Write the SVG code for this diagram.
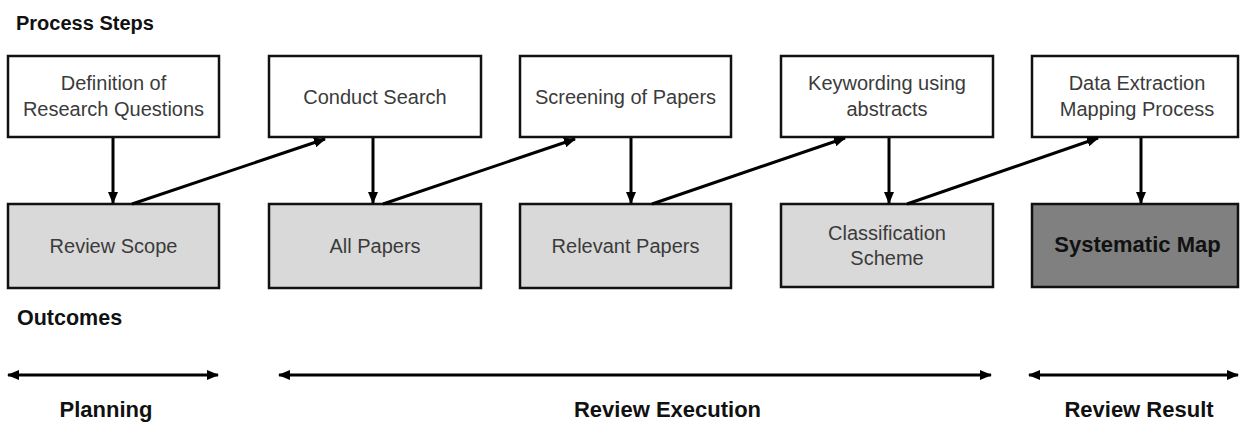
<svg xmlns="http://www.w3.org/2000/svg" width="1240" height="423" viewBox="0 0 1240 423">
  <defs>
    <marker id="ah" markerUnits="userSpaceOnUse" markerWidth="12" markerHeight="10" refX="11" refY="5" orient="auto-start-reverse">
      <path d="M0,0 L12,5 L0,10 Z" fill="#000"/>
    </marker>
    <style>
      .box { fill: #ffffff; stroke: #111; stroke-width: 2.5; }
      .out { fill: #d9d9d9; stroke: #111; stroke-width: 2.5; }
      .dark { fill: #808080; stroke: #111; stroke-width: 2.5; }
      .t { font-family: "Liberation Sans", Arial, sans-serif; font-size: 20px; fill: #3b3b3b; text-anchor: middle; }
      .tb { font-family: "Liberation Sans", Arial, sans-serif; font-size: 22px; font-weight: bold; fill: #111; }
      .c { text-anchor: middle; }
      .conn { stroke: #000; stroke-width: 3; fill: none; marker-end: url(#ah); }
      .dbl { stroke: #000; stroke-width: 3; fill: none; marker-end: url(#ah); marker-start: url(#ah); }
    </style>
  </defs>
  <rect width="1240" height="423" fill="#ffffff"/>

  <text class="tb" x="16" y="30" style="font-size:20px">Process Steps</text>
  <text class="tb" x="17" y="325" style="font-size:21.5px">Outcomes</text>

  <g id="step1"><rect class="box" x="8" y="56" width="211" height="81"/>
    <text class="t" x="113.5" y="90">Definition of</text><text class="t" x="113.5" y="116">Research Questions</text></g>
  <g id="step2"><rect class="box" x="269" y="56" width="212" height="81"/>
    <text class="t" x="375" y="104">Conduct Search</text></g>
  <g id="step3"><rect class="box" x="520" y="56" width="211" height="81"/>
    <text class="t" x="625.5" y="104">Screening of Papers</text></g>
  <g id="step4"><rect class="box" x="781" y="56" width="212" height="81"/>
    <text class="t" x="887" y="90">Keywording using</text><text class="t" x="887" y="116">abstracts</text></g>
  <g id="step5"><rect class="box" x="1032" y="56" width="206" height="81"/>
    <text class="t" x="1137" y="90">Data Extraction</text><text class="t" x="1137" y="116">Mapping Process</text></g>

  <g id="out1"><rect class="out" x="8" y="204" width="211" height="84"/>
    <text class="t" x="113.5" y="253">Review Scope</text></g>
  <g id="out2"><rect class="out" x="269" y="204" width="212" height="84"/>
    <text class="t" x="375" y="253">All Papers</text></g>
  <g id="out3"><rect class="out" x="520" y="204" width="211" height="84"/>
    <text class="t" x="625.5" y="253">Relevant Papers</text></g>
  <g id="out4"><rect class="out" x="781" y="204" width="212" height="83"/>
    <text class="t" x="887" y="240">Classification</text><text class="t" x="887" y="265">Scheme</text></g>
  <g id="out5"><rect class="dark" x="1032" y="204" width="206" height="83"/>
    <text class="tb c" x="1137.5" y="252">Systematic Map</text></g>

  <g id="connectors">
    <line class="conn" x1="113" y1="138" x2="113" y2="203"/>
    <line class="conn" x1="373" y1="138" x2="373" y2="203"/>
    <line class="conn" x1="631" y1="138" x2="631" y2="203"/>
    <line class="conn" x1="889" y1="138" x2="889" y2="203"/>
    <line class="conn" x1="1141" y1="138" x2="1141" y2="203"/>
    <line class="conn" x1="132" y1="204" x2="325" y2="139"/>
    <line class="conn" x1="383" y1="204" x2="575" y2="139"/>
    <line class="conn" x1="652" y1="204" x2="845" y2="138"/>
    <line class="conn" x1="907" y1="204" x2="1098" y2="138"/>
    <line class="dbl" x1="8" y1="375" x2="218" y2="375"/>
    <line class="dbl" x1="279" y1="375" x2="991" y2="375"/>
    <line class="dbl" x1="1029" y1="375" x2="1238" y2="375"/>
  </g>

  <text class="tb c" x="106" y="417">Planning</text>
  <text class="tb c" x="667.5" y="417">Review Execution</text>
  <text class="tb c" x="1139" y="417">Review Result</text>
</svg>
